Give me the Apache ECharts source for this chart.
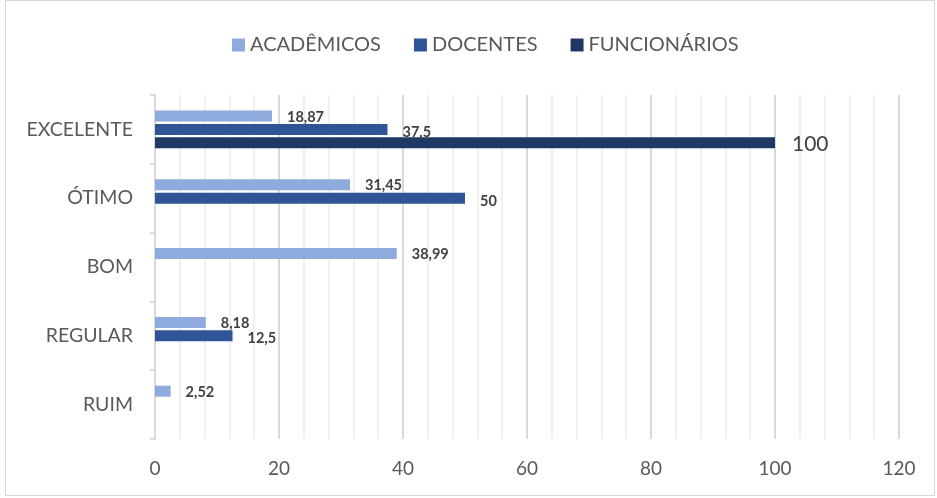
<!DOCTYPE html>
<html><head><meta charset="utf-8">
<script src="https://cdn.jsdelivr.net/npm/echarts@6/dist/echarts.min.js"></script>
<style>
html,body{margin:0;padding:0;background:#fff;}
#c{width:937px;height:498px;}
#frame{position:absolute;left:5px;top:0px;width:930px;height:496px;border:1px solid #d9d9d9;box-sizing:border-box;pointer-events:none;}
</style></head>
<body>
<div id="c"></div>
<div id="frame"></div>
<script>
const categories = ['EXCELENTE', 'ÓTIMO', 'BOM', 'REGULAR', 'RUIM'];
const seriesNames = ['ACADÊMICOS', 'DOCENTES', 'FUNCIONÁRIOS'];
const academicos = [18.87, 31.45, 38.99, 8.18, 2.52];
const docentes = [37.5, 50, null, 12.5, null];
const funcionarios = [100, null, null, null, null];
const xTicks = [0, 20, 40, 60, 80, 100, 120];

const colors = ['#8FAADC', '#2F5597', '#203864'];
const fmt = p => (p.value == null ? '' : String(p.value).replace('.', ','));
const font = 'Lato, "Open Sans", sans-serif';

const chart = echarts.init(document.getElementById('c'));
const boldLabel = {show: true, position: 'right', distance: 15, formatter: fmt, offset: [0, 1],
  color: '#404040', fontWeight: 'bold', fontSize: 14.5, fontFamily: font};

chart.setOption({
  animation: false,
  textStyle: {fontFamily: font},
  legend: {top: 30, left: 227, itemWidth: 13, itemHeight: 13, itemGap: 33,
    icon: 'rect', textStyle: {fontSize: 20, color: '#595959', fontFamily: font},
    data: seriesNames},
  grid: {left: 155, right: 38, top: 95, bottom: 59, containLabel: false},
  xAxis: {type: 'value', min: xTicks[0], max: xTicks[xTicks.length - 1], interval: 20,
    axisLine: {show: false}, axisTick: {show: false},
    axisLabel: {fontSize: 19, color: '#595959', margin: 20, fontFamily: font},
    splitLine: {show: true, lineStyle: {color: '#d9d9d9', width: 2}},
    minorTick: {show: false, splitNumber: 5},
    minorSplitLine: {show: true, lineStyle: {color: '#f0f0f0', width: 2}}},
  yAxis: {type: 'category', data: categories, inverse: true,
    axisLine: {show: true, lineStyle: {color: '#d9d9d9', width: 2}},
    axisTick: {show: true, length: 5, lineStyle: {color: '#d9d9d9', width: 2}},
    axisLabel: {fontSize: 19.5, color: '#595959', margin: 22, fontFamily: font}},
  series: [
    {name: seriesNames[0], type: 'bar', data: academicos, itemStyle: {color: colors[0]},
      barWidth: 11, barGap: '22%', label: boldLabel},
    {name: seriesNames[1], type: 'bar', data: docentes, itemStyle: {color: colors[1]},
      barWidth: 11, barGap: '22%', label: Object.assign({}, boldLabel, {offset: [0, 3]})},
    {name: seriesNames[2], type: 'bar', data: funcionarios, itemStyle: {color: colors[2]},
      barWidth: 11, barGap: '22%',
      label: {show: true, position: 'right', distance: 17, formatter: fmt, offset: [0, 1],
        color: '#404040', fontSize: 21, fontFamily: font}}
  ]
});
</script>
</body></html>
